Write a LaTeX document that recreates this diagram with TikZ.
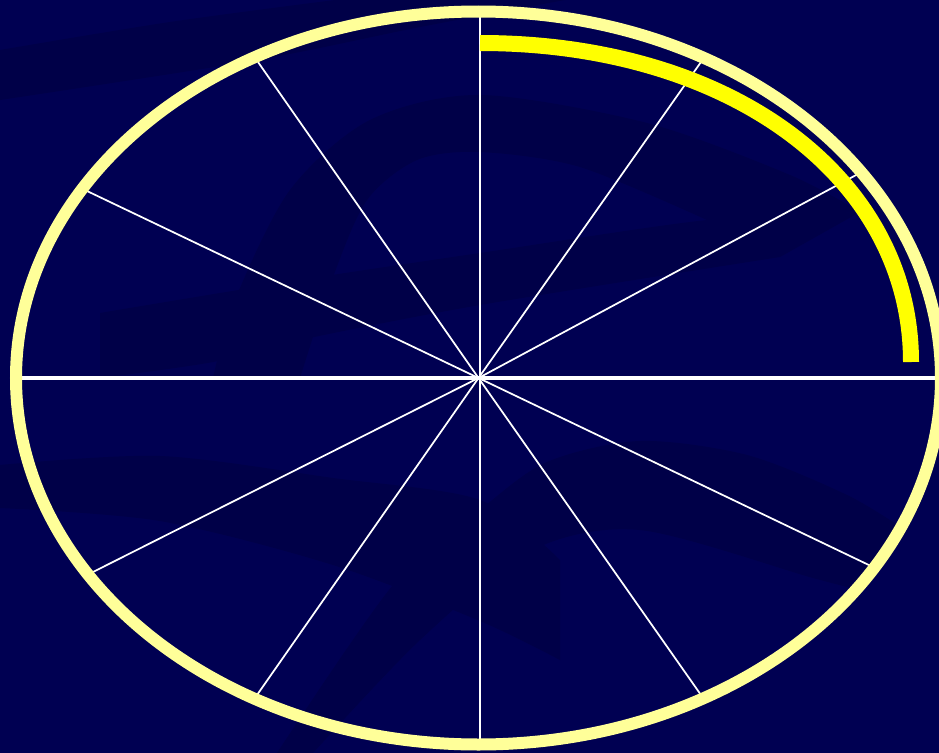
\documentclass[tikz,border=0pt]{standalone}
\usepackage{tikz}
\definecolor{navy}{RGB}{0,0,110}
\definecolor{navyedge}{RGB}{0,0,82}
\definecolor{navydark}{RGB}{0,0,72}
\definecolor{paleyellow}{RGB}{255,255,153}
\definecolor{brightyellow}{RGB}{255,255,0}
\tikzset{
  rim/.style={draw=paleyellow,line width=9pt},
  diam/.style={draw=white,line width=2pt},
  spoke/.style={draw=white,line width=1.3pt},
  sweep/.style={draw=brightyellow,line width=12pt},
  swoosh/.style={fill=navydark}
}

\begin{document}
\begin{tikzpicture}[x=0.75pt,y=-0.75pt]
  \useasboundingbox (0,0) rectangle (939,753);
  \clip (0,0) rectangle (939,753);
  \shade[left color=navyedge,middle color=navy,right color=navyedge] (0,0) rectangle (939,753);
  % background swooshes
  \fill[swoosh] plot[smooth] coordinates {(0,50) (170,22) (335,0)} -- (565,0)
    -- plot[smooth] coordinates {(565,0) (420,27) (257,60) (0,100)} -- cycle;
  \fill[swoosh] plot[smooth] coordinates {(213,378) (235,300) (290,190) (370,120) (480,95) (647,123) (790,175) (860,212)}
    -- plot[smooth] coordinates {(707,220) (580,167) (480,152) (417,160) (367,200) (333,277) (300,378)} -- cycle;
  \fill[swoosh] plot[smooth] coordinates {(100,313) (300,280) (480,253) (707,220) (860,212)}
    -- plot[smooth] coordinates {(780,257) (480,305) (300,340) (213,362) (100,378)} -- cycle;
  \fill[swoosh] plot[smooth] coordinates {(0,465) (160,456) (333,478) (480,500) (560,560)}
    -- plot[smooth] coordinates {(560,660) (480,621) (333,565) (160,521) (0,508)} -- cycle;
  \fill[swoosh] plot[smooth] coordinates {(277,753) (393,585) (480,510) (547,462) (640,441) (747,455) (847,495) (905,530)}
    -- plot[smooth] coordinates {(860,590) (813,578) (640,530) (530,551) (420,640) (313,753)} -- cycle;
  % the wheel
  \coordinate (c) at (478.5,378);
  \coordinate (w) at (16,378);
  \coordinate (e) at (939,378);
  \coordinate (n) at (480,12);
  \coordinate (s) at (480,746);
  \foreach \x/\y [count=\i] in {258/62,87/191,93/572,257/695,701/695,873/567,858/174,701/62}{
    \coordinate (p\i) at (\x,\y);
    \draw[spoke] (c) -- (p\i);
  }
  \draw[diam,line width=2.3pt] (w) -- (e);
  \draw[diam,line width=1.8pt] (n) -- (s);
  \draw[rim] (c) ellipse [x radius=462.5,y radius=366.5];
  % quarter sweep
  \coordinate (s0) at (480,43);
  \coordinate (s1) at (911,362);
  \draw[sweep] (s0) .. controls (730,43) and (911,177) .. (s1);
\end{tikzpicture}
\end{document}
